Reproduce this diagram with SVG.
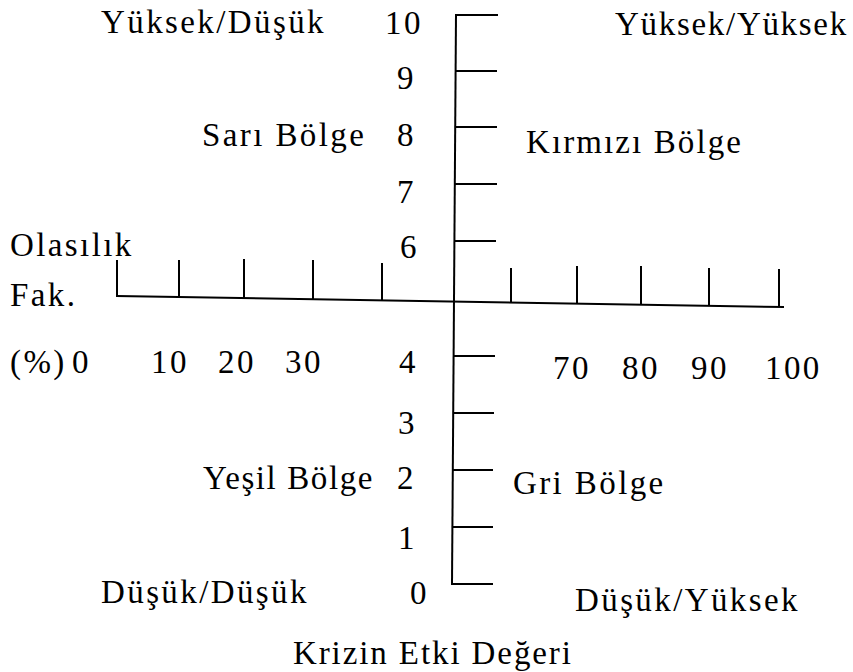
<svg xmlns="http://www.w3.org/2000/svg" width="853" height="672" viewBox="0 0 853 672">
<style>
.t{font-family:"Liberation Serif","Times New Roman",serif;font-size:33px;letter-spacing:2.4px;fill:#000}
.ax{stroke:#000;stroke-width:2;fill:none;stroke-linecap:square}
.tk{stroke:#000;stroke-width:2;fill:none}
</style>
<rect width="853" height="672" fill="#fff"/>
<g id="axes">
<line class="ax" x1="456" y1="15" x2="452" y2="584"/>
<line class="ax" x1="117" y1="296" x2="783" y2="307"/>
</g>
<g id="y-ticks">
<line class="tk" x1="456" y1="15" x2="498" y2="15"/>
<line class="tk" x1="455.6" y1="71" x2="497" y2="71"/>
<line class="tk" x1="455.2" y1="127" x2="497" y2="127"/>
<line class="tk" x1="454.8" y1="184" x2="497" y2="184"/>
<line class="tk" x1="454.4" y1="241" x2="496" y2="241"/>
<line class="tk" x1="453.6" y1="356" x2="495" y2="356"/>
<line class="tk" x1="453.2" y1="413" x2="494" y2="413"/>
<line class="tk" x1="452.8" y1="470" x2="493" y2="470"/>
<line class="tk" x1="452.4" y1="527" x2="493" y2="527"/>
<line class="tk" x1="452" y1="584" x2="493" y2="584"/>
</g>
<g id="x-ticks">
<line class="tk" x1="117" y1="260" x2="117" y2="296"/>
<line class="tk" x1="179" y1="260" x2="179" y2="297"/>
<line class="tk" x1="244" y1="259" x2="244" y2="298"/>
<line class="tk" x1="313" y1="260" x2="313" y2="299"/>
<line class="tk" x1="382" y1="263" x2="382" y2="300"/>
<line class="tk" x1="511" y1="268" x2="511" y2="302.5"/>
<line class="tk" x1="577" y1="266" x2="577" y2="303.6"/>
<line class="tk" x1="641" y1="266" x2="641" y2="304.7"/>
<line class="tk" x1="709" y1="268" x2="709" y2="305.8"/>
<line class="tk" x1="779" y1="269" x2="779" y2="306.9"/>
</g>
<g id="y-labels">
<text class="t" x="385" y="34">10</text>
<text class="t" x="397" y="89">9</text>
<text class="t" x="397" y="146">8</text>
<text class="t" x="397" y="203">7</text>
<text class="t" x="400" y="258">6</text>
<text class="t" x="399" y="373">4</text>
<text class="t" x="398" y="434">3</text>
<text class="t" x="397" y="489">2</text>
<text class="t" x="398" y="549">1</text>
<text class="t" x="410" y="604">0</text>
</g>
<g id="x-labels">
<text class="t" x="10" y="373">(%)</text>
<text class="t" x="72" y="373">0</text>
<text class="t" x="151" y="373">10</text>
<text class="t" x="218" y="373">20</text>
<text class="t" x="285" y="373">30</text>
<text class="t" x="553" y="379">70</text>
<text class="t" x="622" y="379">80</text>
<text class="t" x="691" y="379">90</text>
<text class="t" x="765" y="379">100</text>
</g>
<g id="quadrant-labels">
<text class="t" x="101" y="33">Yüksek/Düşük</text>
<text class="t" x="615" y="35" style="letter-spacing:1.7px">Yüksek/Yüksek</text>
<text class="t" x="202" y="146">Sarı Bölge</text>
<text class="t" x="526" y="153" style="letter-spacing:2.1px">Kırmızı Bölge</text>
<text class="t" x="203" y="489" style="letter-spacing:1.6px">Yeşil Bölge</text>
<text class="t" x="513" y="494">Gri Bölge</text>
<text class="t" x="101" y="603">Düşük/Düşük</text>
<text class="t" x="575" y="611">Düşük/Yüksek</text>
</g>
<g id="axis-titles">
<text class="t" x="10" y="256">Olasılık</text>
<text class="t" x="10" y="306">Fak.</text>
<text class="t" x="293" y="664" style="letter-spacing:1.9px">Krizin Etki Değeri</text>
</g>
</svg>
